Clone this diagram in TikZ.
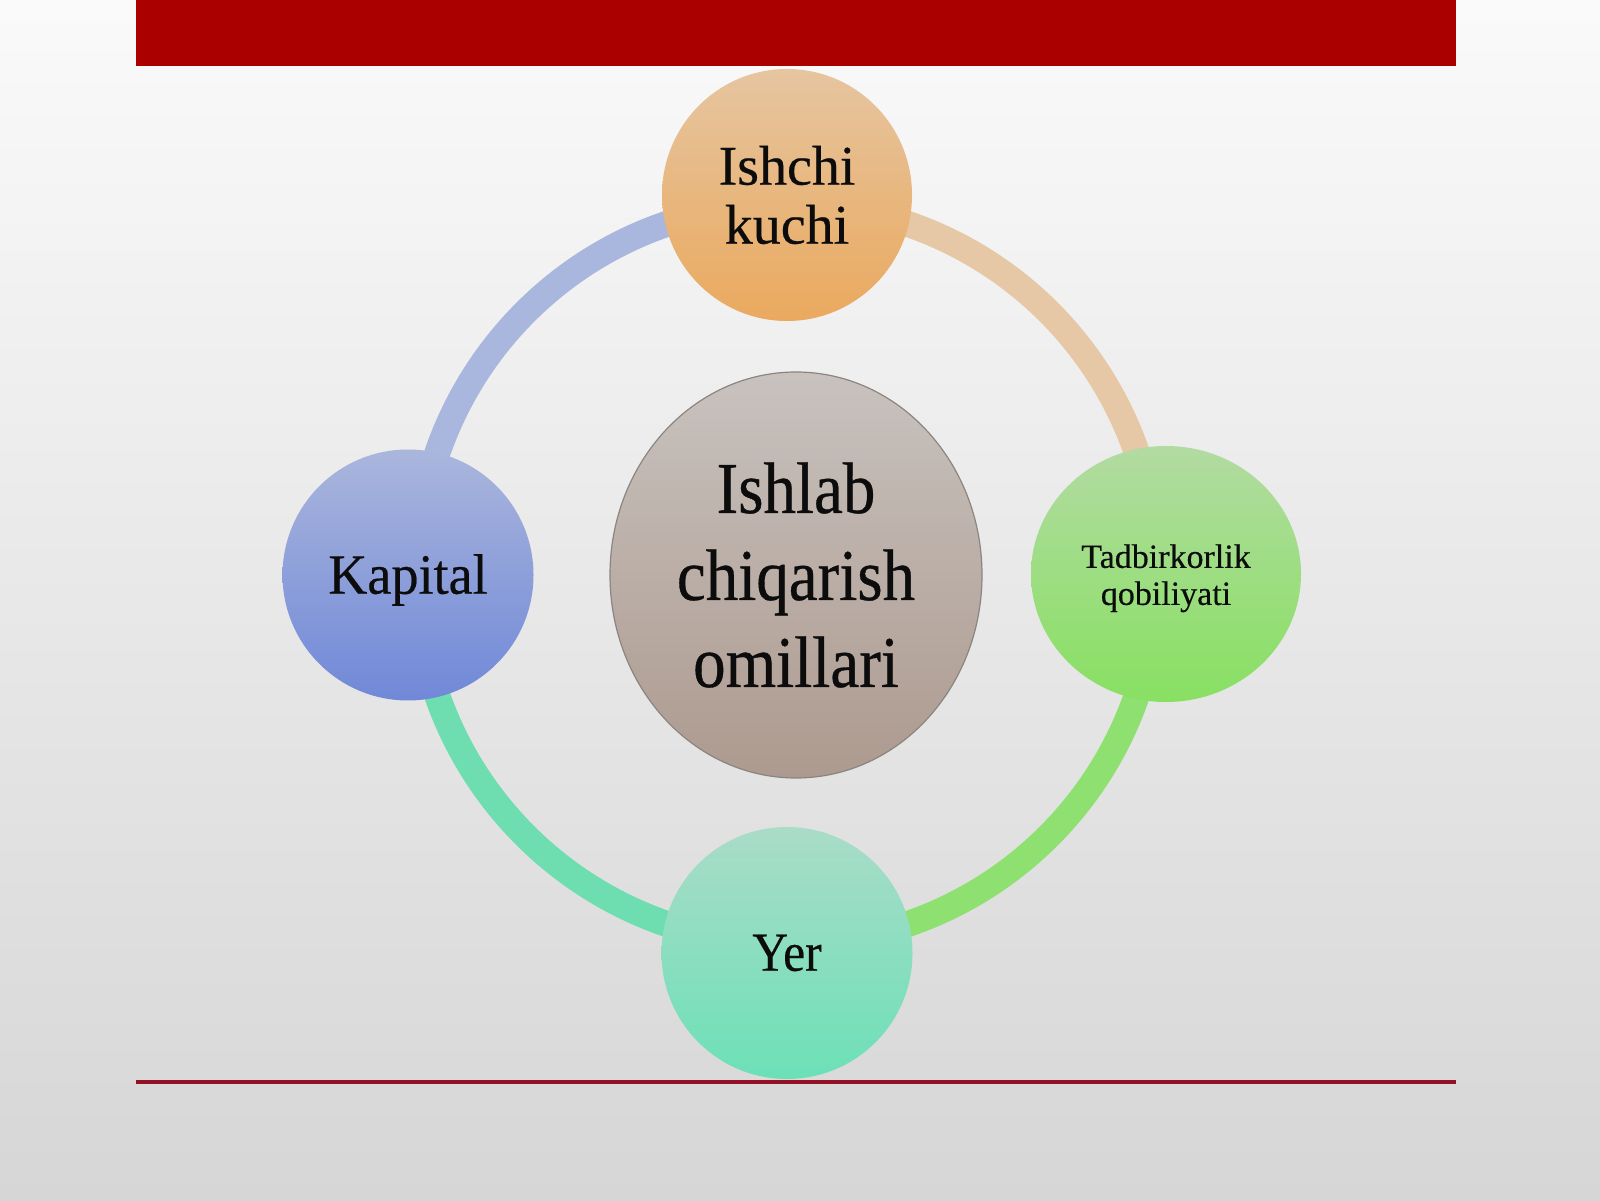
\documentclass[tikz,border=0pt]{standalone}
\usepackage{fontspec}
\setmainfont{Liberation Serif}[FakeBold=0.4]
\newfontfamily\fcenter[FakeStretch=0.89,FakeBold=0.5]{Liberation Serif}
\newfontfamily\fkap[FakeStretch=0.95,FakeBold=0.4]{Liberation Serif}
\newfontfamily\fyer[FakeStretch=0.9,FakeBold=0.4]{Liberation Serif}
\newfontfamily\fplain[FakeBold=0.4]{Liberation Serif}
\usetikzlibrary{shapes.geometric,calc}
\pgfdeclarelayer{bglayer}
\pgfdeclarelayer{ringlayer}
\pgfsetlayers{bglayer,ringlayer,main}
\definecolor{bgtop}{HTML}{FAFAFA}
\definecolor{bgbot}{HTML}{D6D6D6}
\definecolor{barred}{HTML}{AA0000}
\definecolor{linered}{HTML}{951226}
\definecolor{ishT}{HTML}{E6C5A0}
\definecolor{ishB}{HTML}{EAA95E}
\definecolor{kapT}{HTML}{AAB6DC}
\definecolor{kapB}{HTML}{7088D8}
\definecolor{tadT}{HTML}{B2DBA2}
\definecolor{tadB}{HTML}{88E062}
\definecolor{yerT}{HTML}{AADCC8}
\definecolor{yerB}{HTML}{6CE0B8}
\definecolor{cenT}{HTML}{C8C2BE}
\definecolor{cenB}{HTML}{AD9A8F}
\definecolor{cenLine}{HTML}{8A8580}
\definecolor{arcLav}{HTML}{A9B7DE}
\definecolor{arcTan}{HTML}{E6C8A6}
\definecolor{arcGreen}{HTML}{8EE070}
\definecolor{arcTeal}{HTML}{6EDDB0}
\definecolor{txt}{HTML}{0C0C0C}
\tikzset{
  factor/.style={ellipse, inner sep=0pt, text=txt, align=center},
  ringarc/.style={line width=26pt, looseness=1},
}
\begin{document}
\begin{tikzpicture}[x=1pt,y=1pt]
\useasboundingbox (0,0) rectangle (1600,1200);
\begin{pgfonlayer}{bglayer}
  \shade[top color=bgtop, bottom color=bgbot] (0,0) rectangle (1600,1200);
  \fill[barred] (136,1134) rectangle (1456,1200);
  \draw[linered, line width=4pt] (136,118) -- (1456,118);
\end{pgfonlayer}

\node[factor, minimum width=250pt, minimum height=252pt, top color=ishT, bottom color=ishB,
      font={\fplain\fontsize{56}{59}\selectfont}] (ishchi) at (787,1005) {Ishchi\\kuchi};
\node[factor, minimum width=251pt, minimum height=251pt, top color=kapT, bottom color=kapB,
      font={\fkap\fontsize{57}{62}\selectfont}] (kapital) at (408,625)
      {\raisebox{-5pt}[\height][\depth]{Kapital}};
\node[factor, minimum width=270pt, minimum height=256pt, top color=tadT, bottom color=tadB,
      font={\fplain\fontsize{34}{37}\selectfont}] (tadbir) at (1166,626)
      {\raisebox{-5pt}[\height][\depth]{\begin{tabular}{@{}c@{}}Tadbirkorlik\\qobiliyati\end{tabular}}};
\node[factor, minimum width=251pt, minimum height=252pt, top color=yerT, bottom color=yerB,
      font={\fyer\fontsize{55}{60}\selectfont}] (yer) at (787,247) {Yer};
\node[factor, minimum width=372pt, minimum height=406pt, top color=cenT, bottom color=cenB,
      draw=cenLine, line width=1.2pt,
      font={\fcenter\fontsize{73}{87}\selectfont}] (centre) at (796,625) {Ishlab\\chiqarish\\omillari};

\coordinate (rN) at ($(ishchi.center)!9pt!(centre.center)$);
\coordinate (rE) at ($(tadbir.center)!9pt!(centre.center)$);
\coordinate (rS) at ($(yer.center)!9pt!(centre.center)$);
\coordinate (rW) at ($(kapital.center)!9pt!(centre.center)$);

\begin{pgfonlayer}{ringlayer}
  \draw[ringarc, arcTan]   (rN) to[out=0,   in=90]  (rE);
  \draw[ringarc, arcGreen] (rE) to[out=-90, in=0]   (rS);
  \draw[ringarc, arcTeal]  (rS) to[out=180, in=-90] (rW);
  \draw[ringarc, arcLav]   (rW) to[out=90,  in=180] (rN);
\end{pgfonlayer}
\end{tikzpicture}
\end{document}
